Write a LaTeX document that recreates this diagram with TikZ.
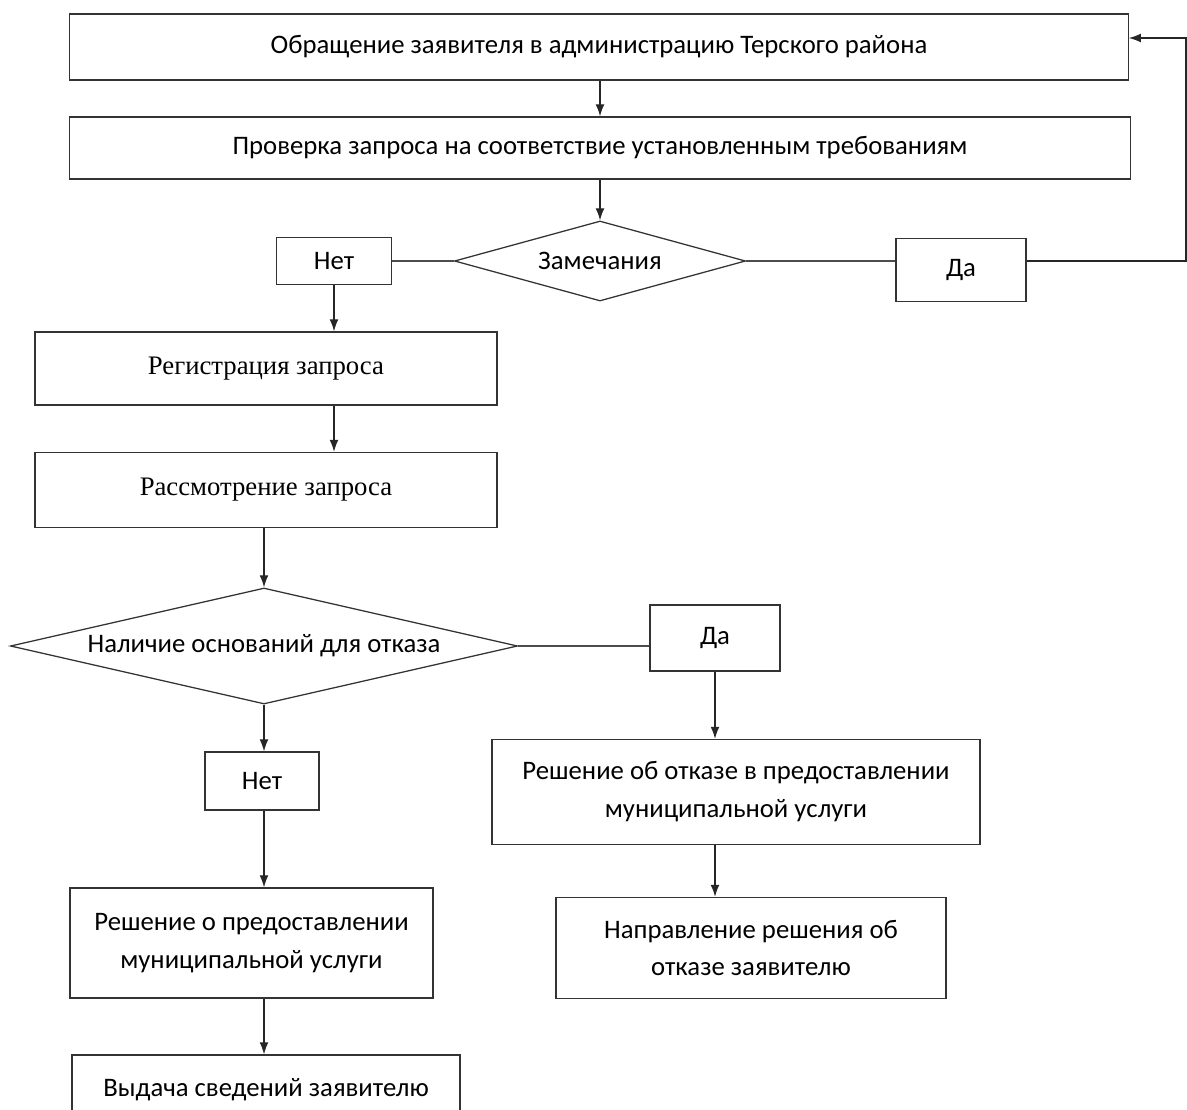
\documentclass[tikz,border=0pt]{standalone}
\usepackage{fontspec}
\setmainfont{Carlito}
\newfontfamily\timesru{Liberation Serif}
\usetikzlibrary{arrows.meta,shapes.geometric}

\tikzset{
    blok/.style={draw=black!80, line width=0.9pt, fill=white, align=center,
        inner sep=0pt, font=\fontsize{19}{27}\selectfont},
    romb/.style={blok, diamond},
    strelka/.style={-{Latex[length=3mm,width=2.2mm]}, draw=black!85, line width=0.9pt},
    linia/.style={draw=black!70, line width=0.9pt}
}

\begin{document}
\begin{tikzpicture}[x=0.025cm, y=-0.025cm]
        \useasboundingbox (0,0) rectangle (1187,1109);

        % verhnyaya chast
        \node[blok, minimum width=26.45cm, minimum height=1.65cm] (obr) at (599,47)
            {Обращение заявителя в администрацию Терского района};
        \node[blok, minimum width=26.5cm, minimum height=1.55cm] (prov) at (600,148)
            {Проверка запроса на соответствие установленным требованиям};
        \node[romb, aspect=3.64, minimum width=7.275cm, minimum height=2cm] (zam) at (600,261)
            {Замечания};
        \node[blok, minimum width=2.875cm, minimum height=1.175cm] (net1) at (334,261) {Нет};
        \node[blok, minimum width=3.25cm, minimum height=1.575cm] (da1) at (961,270) {Да};
        \coordinate (vozv1) at (1186,261);
        \coordinate (vozv2) at (1186,38);

        % levaya vetka
        \node[blok, font=\timesru\fontsize{19}{23}\selectfont, minimum width=11.55cm,
            minimum height=1.825cm] (reg) at (266,368.5) {Регистрация запроса};
        \node[blok, font=\timesru\fontsize{19}{23}\selectfont, minimum width=11.55cm,
            minimum height=1.875cm] (ras) at (266,490) {Рассмотрение запроса};
        \node[romb, aspect=4.37, minimum width=12.675cm, minimum height=2.9cm] (nal) at (264,646)
            {Наличие оснований для отказа};
        \node[blok, minimum width=2.85cm, minimum height=1.45cm] (net2) at (262,781) {Нет};
        \node[blok, minimum width=9.075cm, minimum height=2.75cm] (pred) at (251.5,943)
            {Решение о предоставлении\\муниципальной услуги};
        \node[blok, minimum width=9.7cm, minimum height=1.75cm] (vyd) at (266,1090)
            {Выдача сведений заявителю};

        % pravaya vetka
        \node[blok, minimum width=3.25cm, minimum height=1.65cm] (da2) at (715,638) {Да};
        \node[blok, minimum width=12.2cm, minimum height=2.625cm] (otk) at (736,792)
            {Решение об отказе в предоставлении\\муниципальной услуги};
        \node[blok, minimum width=9.75cm, minimum height=2.525cm] (napr) at (751,948)
            {Направление решения об\\отказе заявителю};

        % strelki
        \draw[strelka] (obr.south -| zam.north) -- (prov.north -| zam.north);
        \draw[strelka] (prov.south -| zam.north) -- (zam.north);
        \draw[linia] (net1.east) -- (zam.west);
        \draw[linia] (zam.east) -- (zam.east -| da1.west);
        \draw[strelka] (da1.east |- vozv1) -- (vozv1) -- (vozv2) -- (vozv2 -| obr.east);
        \draw[strelka] (net1.south) -- (net1.south |- reg.north);
        \draw[strelka] (net1.south |- reg.south) -- (net1.south |- ras.north);
        \draw[strelka] (ras.south -| nal.north) -- (nal.north);
        \draw[strelka] (nal.south) -- (nal.south |- net2.north);
        \draw[strelka] (nal.south |- net2.south) -- (nal.south |- pred.north);
        \draw[strelka] (nal.south |- pred.south) -- (nal.south |- vyd.north);
        \draw[linia] (nal.east) -- (nal.east -| da2.west);
        \draw[strelka] (da2.south) -- (da2.south |- otk.north);
        \draw[strelka] (da2.south |- otk.south) -- (da2.south |- napr.north);

    \end{tikzpicture}
\end{document}
